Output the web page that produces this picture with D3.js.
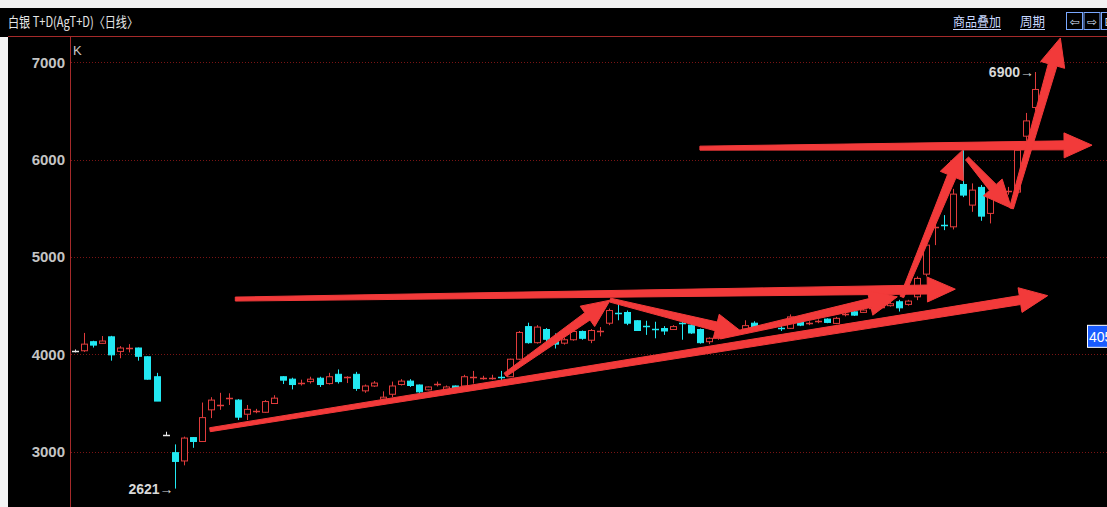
<!DOCTYPE html>
<html>
<head>
<meta charset="utf-8">
<script src="https://cdn.jsdelivr.net/npm/d3@7"></script>
<style>
body { margin: 0; background: #fff; overflow: hidden; }
</style>
</head>
<body>
<div id="chart"></div>
<script>
// daily OHLC (index = trading day)
var opens = [4035,4037,4130,4113,4180,4030,4060,4065,3975,3770,
  3170,2990,2905,3145,3105,3430,3465,3545,3530,3385,
  3405,3405,3495,3770,3745,3705,3720,3755,3700,3795,
  3760,3795,3625,3675,3540,3590,3690,3725,3685,3635,
  3680,3640,3675,3675,3760,3750,3755,3765,3770,3950,
  4285,4120,4255,4150,4115,4150,4235,4145,4230,4320,
  4425,4430,4345,4290,4265,4265,4255,4325,4300,4255,
  4130,4165,4195,4220,4260,4320,4280,4305,4275,4267,
  4350,4315,4335,4362,4318,4405,4437,4431,4460,4480,
  4500,4540,4513,4591,4824,5300,5330,5310,5745,5533,
  5715,5448,5695,5670,5667,6241,6536];
var highs = [4050,4220,4140,4188,4190,4085,4105,4070,3980,3810,
  3205,3075,3155,3150,3505,3560,3605,3600,3540,3480,
  3440,3530,3580,3775,3760,3740,3770,3770,3810,3845,
  3775,3820,3690,3725,3620,3720,3745,3745,3690,3670,
  3720,3680,3680,3790,3830,3780,3790,3830,3955,4240,
  4325,4300,4270,4215,4170,4250,4245,4260,4280,4470,
  4530,4450,4350,4345,4335,4290,4300,4390,4335,4265,
  4175,4215,4230,4245,4350,4340,4300,4320,4300,4410,
  4365,4340,4360,4370,4385,4430,4450,4465,4490,4510,
  4540,4560,4560,4800,5170,5400,5430,5700,6097,5756,
  5740,5687,5730,5720,6110,6480,6900];
var lows = [4020,4025,4070,4110,3935,3960,4020,3935,3740,3520,
  3170,2621,2860,3040,3100,3345,3430,3480,3325,3325,
  3395,3400,3490,3695,3640,3680,3700,3665,3690,3700,
  3705,3625,3605,3665,3535,3560,3680,3665,3605,3630,
  3670,3635,3645,3670,3700,3740,3740,3700,3770,3940,
  4110,4110,4075,4060,4100,4140,4150,4115,4185,4300,
  4350,4300,4240,4200,4165,4200,4250,4150,4210,4110,
  4105,4150,4180,4200,4240,4250,4260,4270,4240,4260,
  4290,4300,4320,4320,4310,4390,4395,4425,4450,4465,
  4490,4440,4500,4557,4800,5122,5276,5283,5615,5464,
  5372,5345,5660,5640,5650,6193,6508];
var closes = [4035,4105,4095,4137,3995,4065,4068,3980,3745,3520,
  3170,2900,3140,3105,3350,3530,3475,3550,3355,3435,
  3415,3515,3550,3735,3690,3710,3745,3690,3770,3720,
  3765,3650,3675,3705,3560,3675,3725,3680,3615,3665,
  3695,3665,3655,3770,3765,3755,3760,3755,3950,4225,
  4120,4280,4155,4105,4150,4235,4165,4245,4235,4450,
  4415,4320,4245,4280,4255,4240,4285,4315,4220,4120,
  4165,4200,4215,4230,4295,4275,4285,4285,4268,4385,
  4300,4320,4340,4328,4370,4410,4403,4455,4475,4490,
  4520,4478,4547,4780,5122,5308,5315,5646,5636,5687,
  5420,5636,5705,5680,6097,6398,6721];

var yTicks = [3000, 4000, 5000, 6000, 7000];
var minLabel = 2621, maxLabel = 6900;
var cursorPrice = 4180, cursorText = "405";

// hand drawn arrows: [fromDay, fromPrice, toDay, toPrice]
var arrows = [
  [17.7, 4568, 97.2, 4670],
  [14.9, 3226, 107.4, 4603],
  [47.5, 3790, 59.1, 4557],
  [59.1, 4557, 73.8, 4218],
  [71.2, 4178, 90.8, 4591],
  [91.3, 4590, 98.0, 6097],
  [98.5, 6013, 103.4, 5500],
  [69.0, 6118, 112.3, 6149],
  [103.4, 5500, 108.8, 7250]
];

var W = 1107, H = 507;
var upColor = "#e03c3c", downColor = "#22e8f2", flatColor = "#e8e8e8";

var svg = d3.select("#chart").append("svg")
  .attr("width", W).attr("height", H)
  .style("display", "block");

// background
svg.append("rect").attr("width", W).attr("height", H).attr("fill", "#000");
svg.append("rect").attr("width", W).attr("height", 8).attr("fill", "#f2f2f2");
svg.append("rect").attr("x", 0).attr("y", 37).attr("width", 8).attr("height", H - 37).attr("fill", "#f4f4f4");

var x = d3.scaleLinear().domain([0, opens.length - 1]).range([75, 1035]);
var y = d3.scaleLinear().domain([3000, 7000]).range([451.7, 62.3]);

// header
svg.append("line").attr("x1", 8).attr("x2", W).attr("y1", 36.5).attr("y2", 36.5)
  .attr("stroke", "#a52a2a").attr("stroke-width", 1);
svg.append("text").attr("x", 8).attr("y", 27)
  .attr("font-family", "Noto Sans CJK SC").attr("font-size", 14)
  .attr("fill", "#e6e6e6")
  .attr("textLength", 130).attr("lengthAdjust", "spacingAndGlyphs")
  .text("白银 T+D(AgT+D)〈日线〉");

var links = [["商品叠加", 953, 48], ["周期", 1020, 25]];
links.forEach(function(l) {
  svg.append("text").attr("x", l[1]).attr("y", 26)
    .attr("font-family", "Noto Sans CJK SC").attr("font-size", 13)
    .attr("fill", "#c8d8ff")
    .attr("textLength", l[2]).attr("lengthAdjust", "spacingAndGlyphs")
    .text(l[0]);
  svg.append("line").attr("x1", l[1]).attr("x2", l[1] + l[2])
    .attr("y1", 29.5).attr("y2", 29.5).attr("stroke", "#c8d8ff");
});
["⇦", "⇨", "⊟"].forEach(function(s, i) {
  var bx = 1066 + i * 17.5;
  svg.append("rect").attr("x", bx + 0.5).attr("y", 12.5).attr("width", 16).attr("height", 17)
    .attr("fill", "none").attr("stroke", "#7aa8ff");
  svg.append("text").attr("x", bx + 8.5).attr("y", 25.5).attr("text-anchor", "middle")
    .attr("font-family", "DejaVu Sans").attr("font-size", 12).attr("fill", "#dfe8ff")
    .text(s);
});

// axis and grid
svg.append("line").attr("x1", 70.5).attr("x2", 70.5).attr("y1", 37).attr("y2", H)
  .attr("stroke", "#a52a2a");
svg.append("text").attr("x", 73).attr("y", 55)
  .attr("font-family", "Liberation Sans").attr("font-size", 13).attr("fill", "#c8c8c8")
  .text("K");

var grid = svg.append("g");
grid.selectAll("line").data(yTicks).enter().append("line")
  .attr("x1", 71).attr("x2", W)
  .attr("y1", function(d) { return Math.round(y(d)) + 0.5; })
  .attr("y2", function(d) { return Math.round(y(d)) + 0.5; })
  .attr("stroke", "#7a1414").attr("stroke-dasharray", "1,2");

var yAxis = svg.append("g").attr("transform", "translate(70,0)")
  .call(d3.axisLeft(y).tickValues(yTicks).tickSize(0).tickPadding(5).tickFormat(d3.format("d")));
yAxis.select(".domain").remove();
yAxis.selectAll("text")
  .attr("font-family", "Liberation Sans Narrow, Liberation Sans")
  .attr("font-weight", "bold").attr("font-size", 15).attr("fill", "#c4c4c4");

// candles
var idx = d3.range(opens.length);
var colorOf = function(i) {
  if (closes[i] > opens[i]) return upColor;
  if (closes[i] < opens[i]) return downColor;
  return flatColor;
};
var candles = svg.append("g").selectAll("g").data(idx).enter().append("g");
candles.append("line")
  .attr("x1", function(i) { return Math.round(x(i)) + 0.5; })
  .attr("x2", function(i) { return Math.round(x(i)) + 0.5; })
  .attr("y1", function(i) { return y(highs[i]); })
  .attr("y2", function(i) { return y(lows[i]); })
  .attr("stroke", colorOf);
candles.each(function(i) {
  var g = d3.select(this);
  var cx = Math.round(x(i));
  var top = y(Math.max(opens[i], closes[i])), bot = y(Math.min(opens[i], closes[i]));
  if (bot - top < 1.5) {
    g.append("line").attr("x1", cx - 3).attr("x2", cx + 4)
      .attr("y1", Math.round(top) + 0.5).attr("y2", Math.round(top) + 0.5)
      .attr("stroke", colorOf(i)).attr("stroke-width", 1.5);
  } else {
    g.append("rect").attr("x", cx - 2.5).attr("y", top).attr("width", 6).attr("height", bot - top)
      .attr("fill", closes[i] > opens[i] ? "#000" : colorOf(i))
      .attr("stroke", colorOf(i)).attr("stroke-width", 1);
  }
});

// min / max markers
var iMin = lows.indexOf(minLabel), iMax = highs.indexOf(maxLabel);
svg.append("text").attr("x", x(iMin) - 1).attr("y", y(minLabel) + 5)
  .attr("text-anchor", "end")
  .attr("font-family", "Liberation Sans Narrow, Liberation Sans").attr("font-weight", "bold")
  .attr("font-size", 14).attr("fill", "#d8d8d8").text(minLabel + "→");
svg.append("text").attr("x", x(iMax) - 1).attr("y", y(maxLabel) + 5)
  .attr("text-anchor", "end")
  .attr("font-family", "Liberation Sans Narrow, Liberation Sans").attr("font-weight", "bold")
  .attr("font-size", 14).attr("fill", "#d8d8d8").text(maxLabel + "→");

// hand drawn arrows
function arrowPath(a) {
  var x0 = x(a[0]), y0 = y(a[1]), x1 = x(a[2]), y1 = y(a[3]);
  var dx = x1 - x0, dy = y1 - y0, len = Math.sqrt(dx * dx + dy * dy);
  var ux = dx / len, uy = dy / len, nx = -uy, ny = ux;
  var hl = 28, hw = 12.5, w0 = 2, w1 = 4.5;
  var bx = x1 - ux * hl, by = y1 - uy * hl;
  var pts = [
    [x0 + nx * w0, y0 + ny * w0],
    [bx + nx * w1, by + ny * w1],
    [bx + nx * hw, by + ny * hw],
    [x1, y1],
    [bx - nx * hw, by - ny * hw],
    [bx - nx * w1, by - ny * w1],
    [x0 - nx * w0, y0 - ny * w0]
  ];
  return d3.line()(pts) + "Z";
}
svg.append("g").selectAll("path").data(arrows).enter().append("path")
  .attr("d", arrowPath)
  .attr("fill", "#f23a3a").attr("stroke", "#f23a3a").attr("stroke-width", 1)
  .attr("stroke-linejoin", "round");

// cursor price box on the right edge
var cy = y(cursorPrice);
svg.append("rect").attr("x", 1087.5).attr("y", cy - 11.5).attr("width", 30).attr("height", 22)
  .attr("fill", "#1a5cff").attr("stroke", "#ffffff");
svg.append("text").attr("x", 1089).attr("y", cy + 5)
  .attr("font-family", "Liberation Sans").attr("font-size", 14).attr("fill", "#ffffff")
  .text(cursorText);
</script>
</body>
</html>
